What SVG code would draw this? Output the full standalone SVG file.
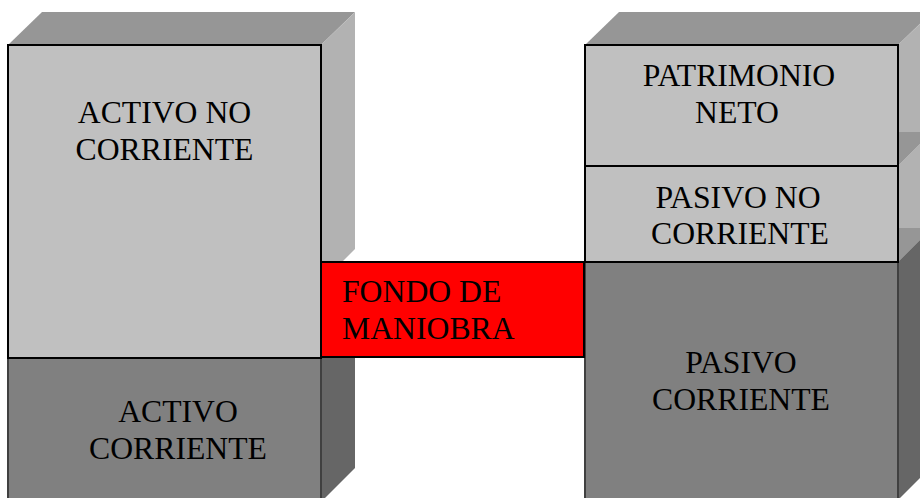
<svg xmlns="http://www.w3.org/2000/svg" width="920" height="498" viewBox="0 0 920 498">
<style>
.top{fill:#969696}
.sideL{fill:#b2b2b2}
.sideD{fill:#666666}
.frontL{fill:#c0c0c0;stroke:#000;stroke-width:2}
.frontD{fill:#808080;stroke:#404040;stroke-width:2}
.red{fill:#ff0000;stroke:#000;stroke-width:2}
text{font-family:"Liberation Serif","Times New Roman",serif;font-size:31.7px;fill:#000}
.c{text-anchor:middle}
</style>
<rect width="920" height="498" fill="#fff"/>
<g id="activo-no-corriente-faces">
<polygon class="top" points="8,45 42,12 355,12 321,45"/>
<polygon class="sideL" points="321,45 355,12 355,249 321,283"/>
</g>
<g id="activo-corriente">
<polygon class="sideD" points="321,358 355,324 355,468 321,502"/>
<rect class="frontD" x="8" y="358" width="313" height="144"/>
<text class="c" x="178" y="421.5">ACTIVO</text>
<text class="c" x="178" y="459">CORRIENTE</text>
</g>
<g id="activo-no-corriente">
<rect class="frontL" x="8" y="45" width="313" height="313"/>
<text class="c" x="164.5" y="123">ACTIVO NO</text>
<text class="c" x="164.5" y="160">CORRIENTE</text>
</g>
<g id="patrimonio-neto-faces">
<polygon class="top" points="585,45 619,12 932,12 898,45"/>
<polygon class="sideL" points="898,45 932,12 932,132 898,166"/>
</g>
<g id="pasivo-no-corriente-faces">
<polygon class="top" points="585,166 619,132 932,132 898,166"/>
<polygon class="sideL" points="898,166 932,132 932,228 898,262"/>
</g>
<g id="pasivo-corriente">
<polygon class="top" points="585,262 619,228 932,228 898,262"/>
<polygon class="sideD" points="898,262 932,228 932,466 898,500"/>
<rect class="frontD" x="585" y="262" width="313" height="240"/>
<text class="c" x="741" y="372.5">PASIVO</text>
<text class="c" x="741" y="410">CORRIENTE</text>
</g>
<g id="pasivo-no-corriente">
<rect class="frontL" x="585" y="166" width="313" height="96"/>
<text class="c" x="738" y="208">PASIVO NO</text>
<text class="c" x="740" y="244">CORRIENTE</text>
</g>
<g id="patrimonio-neto">
<rect class="frontL" x="585" y="45" width="313" height="121"/>
<text class="c" x="739" y="86">PATRIMONIO</text>
<text class="c" x="737" y="123">NETO</text>
</g>
<g id="fondo-de-maniobra">
<rect class="red" x="321" y="262" width="263" height="95"/>
<text x="342" y="301.5">FONDO DE</text>
<text x="342" y="339">MANIOBRA</text>
</g>
<g id="connectors"/>
</svg>
